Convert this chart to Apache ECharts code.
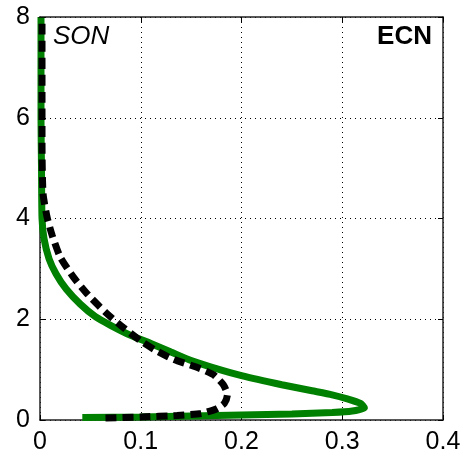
<!DOCTYPE html>
<html>
<head>
<meta charset="utf-8">
<script src="https://cdn.jsdelivr.net/npm/echarts@6/dist/echarts.min.js"></script>
<style>
  html, body { margin: 0; padding: 0; background: #fff; }
  #main { width: 464px; height: 465px; }
</style>
</head>
<body>
<div id="main"></div>
<script>
// axis ticks
var xTicks = [0, 0.1, 0.2, 0.3, 0.4];
var yTicks = [0, 2, 4, 6, 8];

// green profile (value on x, height on y)
var greenX = [0.042, 0.1, 0.15, 0.2, 0.25, 0.29, 0.31, 0.322, 0.318, 0.305, 0.29, 0.27, 0.24, 0.2, 0.17, 0.15, 0.13, 0.11, 0.09, 0.07, 0.055, 0.04, 0.026, 0.016, 0.009, 0.004, 0.002, 0.0015, 0.001, 0.001, 0.001];
var greenY = [0.05, 0.06, 0.08, 0.1, 0.12, 0.15, 0.18, 0.24, 0.33, 0.42, 0.5, 0.58, 0.7, 0.88, 1.05, 1.18, 1.35, 1.52, 1.68, 1.88, 2.05, 2.3, 2.6, 2.9, 3.2, 3.6, 4.0, 5, 6, 7, 8];

// black dashed profile
var blackX = [0.065, 0.1, 0.136, 0.16, 0.175, 0.183, 0.186, 0.182, 0.172, 0.155, 0.133, 0.115, 0.1, 0.083, 0.066, 0.048, 0.033, 0.02, 0.012, 0.007, 0.003, 0.002, 0.002, 0.002];
var blackY = [0.04, 0.06, 0.09, 0.13, 0.22, 0.33, 0.5, 0.7, 0.9, 1.05, 1.2, 1.38, 1.57, 1.83, 2.12, 2.48, 2.84, 3.24, 3.67, 4.03, 4.5, 5.5, 6.5, 8];

function pairs(xs, ys) {
    var arr = [];
    for (var i = 0; i < xs.length; i++) arr.push([xs[i], ys[i]]);
    return arr;
}

var chart = echarts.init(document.getElementById('main'));

var gridLine = { show: true, lineStyle: { color: '#000', width: 1, type: [1, 4] } };
var boxLine = { show: true, onZero: false, lineStyle: { color: '#222', width: 1.5 } };
var labelFont = { color: '#000', fontSize: 25, fontFamily: 'Liberation Sans, Arial, sans-serif' };

var option = {
    animation: false,
    grid: { left: 40, top: 17, width: 403, height: 403, containLabel: false },
    xAxis: [
        {
            type: 'value', min: xTicks[0], max: xTicks[xTicks.length - 1], interval: 0.1,
            position: 'bottom',
            axisLine: boxLine,
            axisTick: { show: true, inside: true, length: 5, lineStyle: { color: '#000' } },
            axisLabel: Object.assign({ margin: 10, formatter: function (v) { return String(+v.toFixed(1)); } }, labelFont),
            splitLine: gridLine
        },
        {
            type: 'value', min: xTicks[0], max: xTicks[xTicks.length - 1], interval: 0.1,
            position: 'top',
            axisLine: boxLine,
            axisTick: { show: true, inside: true, length: 5, lineStyle: { color: '#000' } },
            axisLabel: { show: false },
            splitLine: { show: false }
        }
    ],
    yAxis: [
        {
            type: 'value', min: yTicks[0], max: yTicks[yTicks.length - 1], interval: 2,
            position: 'left',
            axisLine: boxLine,
            axisTick: { show: true, inside: true, length: 5, lineStyle: { color: '#000' } },
            axisLabel: Object.assign({ margin: 10 }, labelFont),
            splitLine: gridLine
        },
        {
            type: 'value', min: yTicks[0], max: yTicks[yTicks.length - 1], interval: 2,
            position: 'right',
            axisLine: boxLine,
            axisTick: { show: true, inside: true, length: 5, lineStyle: { color: '#000' } },
            axisLabel: { show: false },
            splitLine: { show: false }
        }
    ],
    graphic: [
        {
            type: 'text', left: 53, top: 24,
            style: { text: 'SON', fill: '#000', font: 'italic 26px "Liberation Sans", Arial, sans-serif' }
        },
        {
            type: 'text', right: 32, top: 24,
            style: { text: 'ECN', fill: '#000', font: 'bold 26px "Liberation Sans", Arial, sans-serif' }
        }
    ],
    series: [
        {
            type: 'line', xAxisIndex: 0, yAxisIndex: 0,
            data: pairs(greenX, greenY),
            showSymbol: false, smooth: 0.2,
            lineStyle: { color: '#008000', width: 7 }
        },
        {
            type: 'line', xAxisIndex: 0, yAxisIndex: 0,
            data: pairs(blackX, blackY),
            showSymbol: false, smooth: 0.2,
            lineStyle: { color: '#000', width: 7, type: [11, 6] }
        }
    ]
};

chart.setOption(option);
</script>
</body>
</html>
